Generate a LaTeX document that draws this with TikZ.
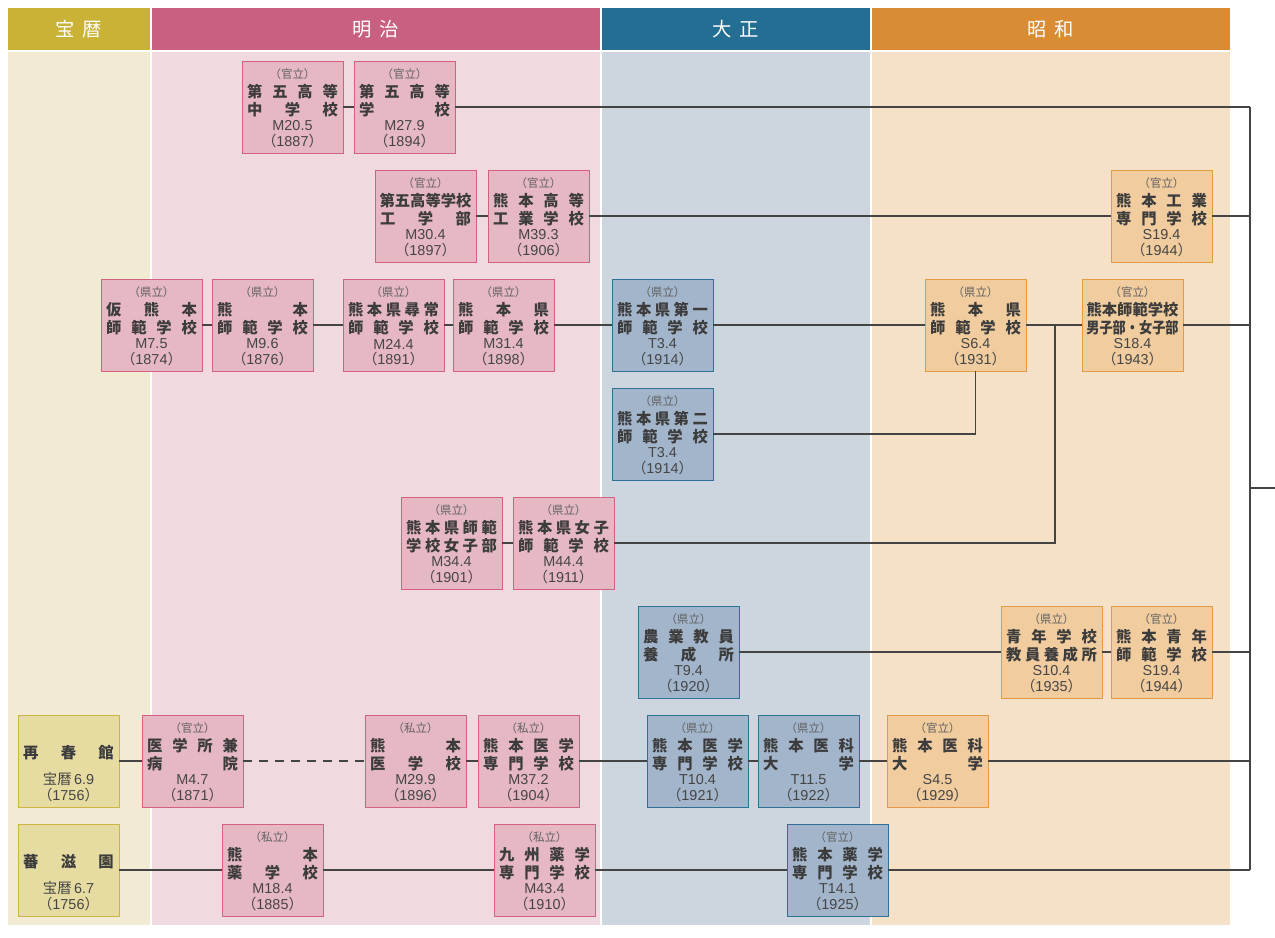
\documentclass[tikz,border=0pt]{standalone}
\usepackage{graphicx}
\usepackage{fontspec}
\setmainfont{Noto Sans CJK JP}
\newfontfamily\latin{Liberation Sans}
\definecolor{hrhead}{HTML}{C9B236}
\definecolor{hrbg}{HTML}{F1EBD3}
\definecolor{hrbox}{HTML}{E6DCA2}
\definecolor{hrline}{HTML}{CDB441}
\definecolor{mjhead}{HTML}{C96080}
\definecolor{mjbg}{HTML}{F0DADF}
\definecolor{mjbox}{HTML}{E6B8C3}
\definecolor{mjline}{HTML}{D2607F}
\definecolor{tshead}{HTML}{246E94}
\definecolor{tsbg}{HTML}{CDD5DF}
\definecolor{tsbox}{HTML}{A3B5CB}
\definecolor{tsline}{HTML}{2D7197}
\definecolor{swhead}{HTML}{D98C33}
\definecolor{swbg}{HTML}{F5E1C7}
\definecolor{swbox}{HTML}{F0CC9F}
\definecolor{swline}{HTML}{E39A45}
\definecolor{linec}{HTML}{444444}
\definecolor{mainc}{HTML}{3C3C3C}
\definecolor{labc}{HTML}{606060}
\definecolor{datec}{HTML}{454545}
\newlength\jw
\setlength\jw{68pt}
\newcommand\jsp[1]{\makebox[\jw]{\jspA#1\relax}}
\def\jspA#1{#1\jspB}
\def\jspB#1{\ifx#1\relax\else\hfill#1\expandafter\jspB\fi}
\tikzset{
  box/.style={draw, line width=0.7pt, minimum width=75.75pt, minimum height=69pt, inner sep=0pt, outer sep=0pt, anchor=north west},
  horeki/.style={box, fill=hrbox, draw=hrline},
  meiji/.style={box, fill=mjbox, draw=mjline},
  taisho/.style={box, fill=tsbox, draw=tsline},
  showa/.style={box, fill=swbox, draw=swline},
  labtxt/.style={font=\fontsize{8.6}{10}\selectfont, text=labc, inner sep=0pt},
  maintxt/.style={font=\bfseries\fontsize{11.5}{13}\selectfont, text=mainc, inner sep=0pt},
  datetxt/.style={font=\latin\fontsize{10.8}{12}\selectfont, text=datec, inner sep=0pt},
  hdr/.style={anchor=north west, inner sep=0pt, outer sep=0pt, minimum height=31.5pt, text=white, font=\fontsize{14.5}{16}\selectfont},
  conn/.style={draw=linec, line width=1.4pt},
}
\newcommand\school[9]{%
  \node[#4] (#1) at (#2,#3) {};
  \node[labtxt] (#1-l) at ({#2+50.5},{#3+13}) {#5};
  \node[maintxt] (#1-a) at ({#2+50.5},{#3+30.5}) {#6};
  \node[maintxt] (#1-b) at ({#2+50.5},{#3+48.5}) {#7};
  \node[datetxt] (#1-d) at ({#2+50.5},{#3+65}) {#8};
  \node[datetxt] (#1-y) at ({#2+50.5},{#3+80}) {{\normalfont（}#9{\normalfont）}};
}
\newcommand\oldschool[6]{%
  \node[#4] (#1) at (#2,#3) {};
  \node[maintxt] (#1-a) at ({#2+50.5},{#3+38}) {\jsp{#5}};
  \node[datetxt] (#1-d) at ({#2+50.5},{#3+64}) {{\normalfont 宝暦}\,#6};
  \node[datetxt] (#1-y) at ({#2+50.5},{#3+80}) {{\normalfont（}1756{\normalfont）}};
}
\begin{document}
\begin{tikzpicture}[x=0.75pt,y=-0.75pt]
\useasboundingbox (0,0) rectangle (1275,938);
% backgrounds
\fill[hrbg] (8,52) rectangle (150,925);
\fill[mjbg] (152,52) rectangle (600,925);
\fill[tsbg] (602,52) rectangle (870,925);
\fill[swbg] (872,52) rectangle (1230,925);
% headers
\node[hdr, fill=hrhead, minimum width=106.5pt] (h1) at (8,8) {宝\hspace{0.4em}暦};
\node[hdr, fill=mjhead, minimum width=336pt] (h2) at (152,8) {明\hspace{0.4em}治};
\node[hdr, fill=tshead, minimum width=201pt] (h3) at (602,8) {大\hspace{0.4em}正};
\node[hdr, fill=swhead, minimum width=268.5pt] (h4) at (872,8) {昭\hspace{0.4em}和};
% row 1
\school{a1}{242}{61}{meiji}{（官立）}{\jsp{第五高等}}{\jsp{中学校}}{M20.5}{1887}
\school{b1}{354}{61}{meiji}{（官立）}{\jsp{第五高等}}{\jsp{学校}}{M27.9}{1894}
% row 2
\school{c2}{375}{170}{meiji}{（官立）}{\jsp{第五高等学校}}{\jsp{工学部}}{M30.4}{1897}
\school{d2}{488}{170}{meiji}{（官立）}{\jsp{熊本高等}}{\jsp{工業学校}}{M39.3}{1906}
\school{e2}{1111}{170}{showa}{（官立）}{\jsp{熊本工業}}{\jsp{専門学校}}{S19.4}{1944}
% row 3
\school{a3}{101}{279}{meiji}{（県立）}{\jsp{仮熊本}}{\jsp{師範学校}}{M7.5}{1874}
\school{b3}{212}{279}{meiji}{（県立）}{\jsp{熊本}}{\jsp{師範学校}}{M9.6}{1876}
\school{c3}{343}{279}{meiji}{（県立）}{\jsp{熊本県尋常}}{\jsp{師範学校}}{M24.4}{1891}
\school{d3}{453}{279}{meiji}{（県立）}{\jsp{熊本県}}{\jsp{師範学校}}{M31.4}{1898}
\school{e3}{612}{279}{taisho}{（県立）}{\jsp{熊本県第一}}{\jsp{師範学校}}{T3.4}{1914}
\school{f3}{925}{279}{showa}{（県立）}{\jsp{熊本県}}{\jsp{師範学校}}{S6.4}{1931}
\school{g3}{1082}{279}{showa}{（官立）}{\jsp{熊本師範学校}}{\makebox[\jw]{\scalebox{0.86}[1]{男子部・女子部}}}{S18.4}{1943}
% row 4
\school{h4}{612}{388}{taisho}{（県立）}{\jsp{熊本県第二}}{\jsp{師範学校}}{T3.4}{1914}
% row 5
\school{i5}{401}{497}{meiji}{（県立）}{\jsp{熊本県師範}}{\jsp{学校女子部}}{M34.4}{1901}
\school{j5}{513}{497}{meiji}{（県立）}{\jsp{熊本県女子}}{\jsp{師範学校}}{M44.4}{1911}
% row 6
\school{k6}{638}{606}{taisho}{（県立）}{\jsp{農業教員}}{\jsp{養成所}}{T9.4}{1920}
\school{l6}{1001}{606}{showa}{（県立）}{\jsp{青年学校}}{\jsp{教員養成所}}{S10.4}{1935}
\school{n6}{1111}{606}{showa}{（官立）}{\jsp{熊本青年}}{\jsp{師範学校}}{S19.4}{1944}
% row 7
\oldschool{o7}{18}{715}{horeki}{再春館}{6.9}
\school{p7}{142}{715}{meiji}{（官立）}{\jsp{医学所兼}}{\jsp{病院}}{M4.7}{1871}
\school{q7}{365}{715}{meiji}{（私立）}{\jsp{熊本}}{\jsp{医学校}}{M29.9}{1896}
\school{r7}{478}{715}{meiji}{（私立）}{\jsp{熊本医学}}{\jsp{専門学校}}{M37.2}{1904}
\school{s7}{647}{715}{taisho}{（県立）}{\jsp{熊本医学}}{\jsp{専門学校}}{T10.4}{1921}
\school{u7}{758}{715}{taisho}{（県立）}{\jsp{熊本医科}}{\jsp{大学}}{T11.5}{1922}
\school{v7}{887}{715}{showa}{（官立）}{\jsp{熊本医科}}{\jsp{大学}}{S4.5}{1929}
% row 8
\oldschool{w8}{18}{824}{horeki}{蕃滋園}{6.7}
\school{x8}{222}{824}{meiji}{（私立）}{\jsp{熊本}}{\jsp{薬学校}}{M18.4}{1885}
\school{y8}{494}{824}{meiji}{（私立）}{\jsp{九州薬学}}{\jsp{専門学校}}{M43.4}{1910}
\school{z8}{787}{824}{taisho}{（官立）}{\jsp{熊本薬学}}{\jsp{専門学校}}{T14.1}{1925}
% trunk coordinates
\coordinate (t1) at (1250,107);
\coordinate (t2) at (1250,216);
\coordinate (t3) at (1250,325);
\coordinate (t6) at (1250,652);
\coordinate (t7) at (1250,761);
\coordinate (t8) at (1250,870);
\coordinate (tm) at (1250,488);
\coordinate (te) at (1275,488);
\coordinate (m3) at (1055,325);
% connectors
\draw[conn] (a1) -- (b1);
\draw[conn] (b1) -- (t1);
\draw[conn] (c2) -- (d2);
\draw[conn] (d2) -- (e2);
\draw[conn] (e2) -- (t2);
\draw[conn] (a3) -- (b3);
\draw[conn] (b3) -- (c3);
\draw[conn] (c3) -- (d3);
\draw[conn] (d3) -- (e3);
\draw[conn] (e3) -- (f3);
\draw[conn] (f3) -- (g3);
\draw[conn] (g3) -- (t3);
\draw[conn] (h4.east) -| (f3.south);
\draw[conn] (i5) -- (j5);
\draw[conn] (j5.east) -| (m3);
\draw[conn] (k6) -- (l6);
\draw[conn] (l6) -- (n6);
\draw[conn] (n6) -- (t6);
\draw[conn] (o7) -- (p7);
\draw[conn, dashed, dash pattern=on 7pt off 5pt] (p7) -- (q7);
\draw[conn] (q7) -- (r7);
\draw[conn] (r7) -- (s7);
\draw[conn] (s7) -- (u7);
\draw[conn] (u7) -- (v7);
\draw[conn] (v7) -- (t7);
\draw[conn] (w8) -- (x8);
\draw[conn] (x8) -- (y8);
\draw[conn] (y8) -- (z8);
\draw[conn] (z8) -- (t8);
\draw[conn] (t1) -- (t8);
\draw[conn] (tm) -- (te);
\end{tikzpicture}
\end{document}
